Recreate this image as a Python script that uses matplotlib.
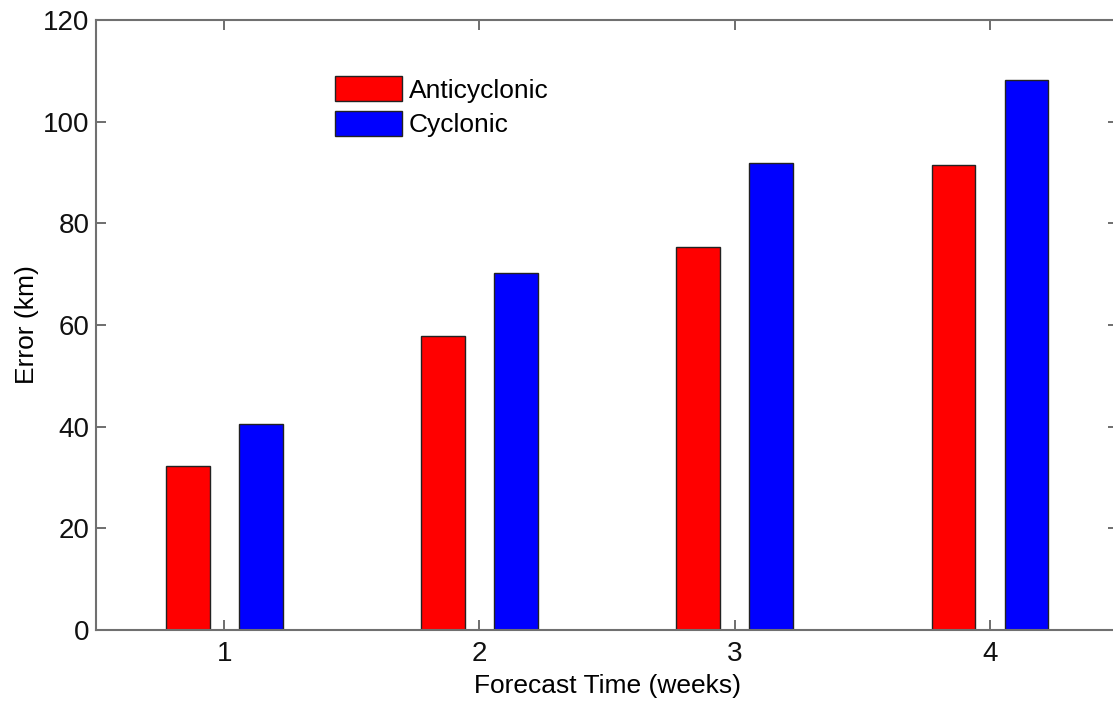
import numpy as np
import matplotlib.pyplot as plt

plt.rcParams['font.family'] = ['Liberation Sans', 'DejaVu Sans']

# forecast week and errors (km)
weeks = [1, 2, 3, 4]
anticyclonic = [32.3, 57.8, 75.3, 91.4]
cyclonic = [40.5, 70.3, 91.8, 108.2]

fig = plt.figure(figsize=(11.13, 7.02), dpi=100)
# right edge of the box sits just past the image edge, like the original
ax = fig.add_axes([0.0867, 0.1026, 0.9175, 0.869])

x = np.array(weeks)
w = 0.172
off = 0.143
ax.bar(x - off, anticyclonic, w, color='#ff0000', edgecolor='#222222', linewidth=1.0, label='Anticyclonic')
ax.bar(x + off, cyclonic, w, color='#0000ff', edgecolor='#222222', linewidth=1.0, label='Cyclonic')

ax.set_xlim(0.5, 4.5)
ax.set_ylim(0, 120)
ax.set_xticks(weeks)
ax.set_yticks(range(0, 121, 20))

for s in ax.spines.values():
    s.set_color('#707070')
    s.set_linewidth(1.5)
ax.tick_params(direction='in', top=True, right=True, length=7, width=1.2,
               color='#555555', labelsize=20, labelcolor='#111111', pad=5)
ax.tick_params(axis='x', pad=8)

ax.set_xlabel('Forecast Time (weeks)', fontsize=19, labelpad=5)
ax.set_ylabel('Error (km)', fontsize=19, labelpad=3)

ax.legend(loc='upper left', bbox_to_anchor=(335 / 1113, 1 - 76 / 702),
          bbox_transform=fig.transFigure, frameon=False, fontsize=19, borderpad=0,
          borderaxespad=0, handlelength=2.54, handleheight=1.1, labelspacing=0.3,
          handletextpad=0.25)

fig.savefig('out.png', dpi=100)
